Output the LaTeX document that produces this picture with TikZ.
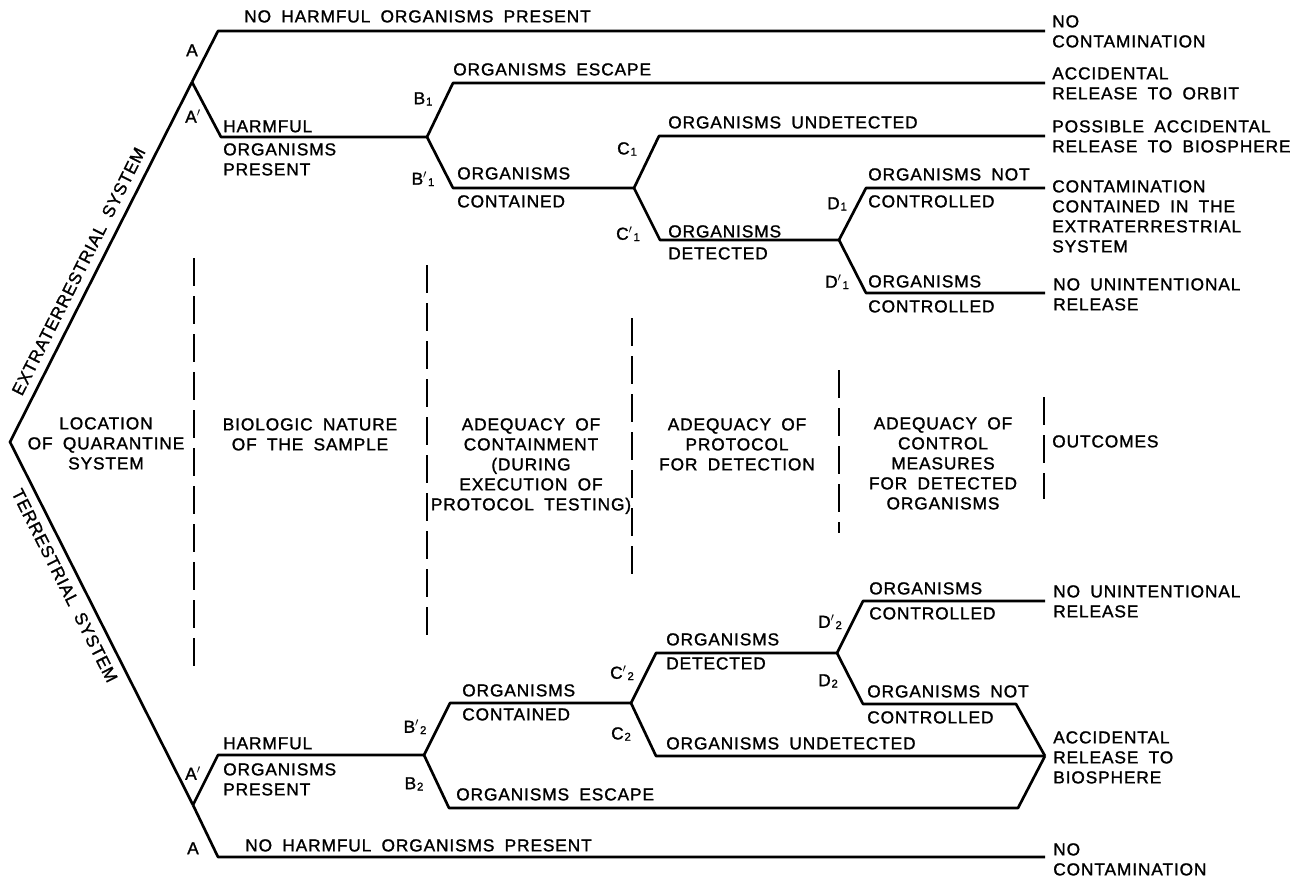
\documentclass[tikz,border=0pt]{standalone}
\usepackage{fontspec}
\setmainfont{Liberation Sans}[LetterSpace=5,WordSpace=1.8,FakeBold=1.3]
\newcommand\dsub[1]{\kern0.6pt{\fontsize{8.5}{8.5}\selectfont\raisebox{-1pt}{#1}}}
\newcommand\prm{$'$}
\begin{document}
\begin{tikzpicture}[x=0.75pt,y=-0.75pt,
  tree/.style={line width=2pt,line join=round},
  divider/.style={line width=1.1pt,dash pattern=on 21pt off 7.5pt},
  lbl/.style={inner sep=0pt,font=\fontsize{13}{15}\selectfont,anchor=north west},
  ml/.style={lbl,align=left},
  ctr/.style={lbl,anchor=north,align=center},
  slant/.style={lbl,sloped,inner xsep=0pt,inner ysep=7pt}]
\useasboundingbox (0,0) rectangle (1296,879);
% ---------- junction coordinates ----------
\coordinate (root) at (10,442);
\coordinate (Ja) at (192,82);
\coordinate (a1) at (218,31);   \coordinate (a1e) at (1045,31);
\coordinate (ap1) at (221,137); \coordinate (Jb1) at (427,137);
\coordinate (b1) at (453,83);   \coordinate (b1e) at (1045,83);
\coordinate (bp1) at (453,188); \coordinate (Jc1) at (634,188);
\coordinate (c1) at (659,136);  \coordinate (c1e) at (1045,136);
\coordinate (cp1) at (660,240); \coordinate (Jd1) at (839,240);
\coordinate (d1) at (866,188);  \coordinate (d1e) at (1045,188);
\coordinate (dp1) at (866,293); \coordinate (dp1e) at (1045,293);
\coordinate (Jb) at (193,805);
\coordinate (a2) at (218,857);  \coordinate (a2e) at (1045,857);
\coordinate (ap2) at (218,755); \coordinate (Jb2) at (424,755);
\coordinate (bp2) at (450,703); \coordinate (Jc2) at (631,703);
\coordinate (b2) at (449,808);  \coordinate (b2k) at (1018,808);
\coordinate (cp2) at (656,653); \coordinate (Jd2) at (837,653);
\coordinate (c2) at (656,756);  \coordinate (P) at (1045,756);
\coordinate (dp2) at (863,601); \coordinate (dp2e) at (1045,601);
\coordinate (d2) at (863,704);  \coordinate (d2k) at (1016,704);
% ---------- tree ----------
\draw[tree,line join=miter] (Ja) -- (root) -- (Jb);
\draw[tree] (Ja) -- (a1) -- (a1e);
\draw[tree] (Ja) -- (ap1) -- (Jb1);
\draw[tree] (Jb1) -- (b1) -- (b1e);
\draw[tree] (Jb1) -- (bp1) -- (Jc1);
\draw[tree] (Jc1) -- (c1) -- (c1e);
\draw[tree] (Jc1) -- (cp1) -- (Jd1);
\draw[tree] (Jd1) -- (d1) -- (d1e);
\draw[tree] (Jd1) -- (dp1) -- (dp1e);
\draw[tree] (Jb) -- (a2) -- (a2e);
\draw[tree] (Jb) -- (ap2) -- (Jb2);
\draw[tree] (Jb2) -- (bp2) -- (Jc2);
\draw[tree] (Jb2) -- (b2) -- (b2k) -- (P);
\draw[tree] (Jc2) -- (cp2) -- (Jd2);
\draw[tree] (Jc2) -- (c2) -- (P);
\draw[tree] (Jd2) -- (dp2) -- (dp2e);
\draw[tree] (Jd2) -- (d2) -- (d2k) -- (P);
% ---------- slanted labels ----------
\path (root) -- (Ja) node[slant,pos=0.113,anchor=south west] (tExt) {EXTRATERRESTRIAL SYSTEM};
\path (root) -- (Jb) node[slant,pos=0.112,anchor=north west] (tTer) {TERRESTRIAL SYSTEM};
% ---------- dividers ----------
\draw[divider] (194,258) -- (194,669);
\draw[divider] (427,265) -- (427,637);
\draw[divider] (632,318) -- (632,577);
\draw[divider] (839,370) -- (839,533);
\draw[divider] (1044,397) -- (1044,499);
% ---------- column headers ----------
\node[ctr] (hLoc) at (106,417) {LOCATION\\OF QUARANTINE\\SYSTEM};
\node[ctr] (hBio) at (310,418) {BIOLOGIC NATURE\\OF THE SAMPLE};
\node[ctr] (hCon) at (531,418) {ADEQUACY OF\\CONTAINMENT\\(DURING\\EXECUTION OF\\PROTOCOL TESTING)};
\node[ctr] (hDet) at (737,418) {ADEQUACY OF\\PROTOCOL\\FOR DETECTION};
\node[ctr] (hCtl) at (943,417) {ADEQUACY OF\\CONTROL\\MEASURES\\FOR DETECTED\\ORGANISMS};
\node[lbl] (hOut) at (1052,435) {OUTCOMES};
% ---------- upper branch labels ----------
\node[lbl] (tNo1) at (244,10) {NO HARMFUL ORGANISMS PRESENT};
\node[ctr] (tA1) at (192,44) {A};
\node[ctr] (tAp1) at (193,110) {A\prm};
\node[lbl] (tH1) at (223,120) {HARMFUL};
\node[ml] (tOP1) at (223,143) {ORGANISMS\\PRESENT};
\node[ctr] (tB1) at (423,92) {B\dsub{1}};
\node[ctr] (tBp1) at (423,172) {B\prm\dsub{1}};
\node[lbl] (tEsc1) at (453,63) {ORGANISMS ESCAPE};
\node[lbl] (tCo1a) at (457,167) {ORGANISMS};
\node[lbl] (tCo1b) at (457,195) {CONTAINED};
\node[ctr] (tC1) at (627,142) {C\dsub{1}};
\node[ctr] (tCp1) at (628,227) {C\prm\dsub{1}};
\node[lbl] (tUnd1) at (668,116) {ORGANISMS UNDETECTED};
\node[lbl] (tDe1a) at (668,225) {ORGANISMS};
\node[lbl] (tDe1b) at (668,247) {DETECTED};
\node[ctr] (tD1) at (837,197) {D\dsub{1}};
\node[ctr] (tDp1) at (837,275) {D\prm\dsub{1}};
\node[lbl] (tNc1a) at (868,168) {ORGANISMS NOT};
\node[lbl] (tNc1b) at (868,195) {CONTROLLED};
\node[lbl] (tCt1a) at (868,275) {ORGANISMS};
\node[lbl] (tCt1b) at (868,300) {CONTROLLED};
% ---------- upper outcomes ----------
\node[ml] (o1) at (1052,15) {NO\\CONTAMINATION};
\node[ml] (o2) at (1052,67) {ACCIDENTAL\\RELEASE TO ORBIT};
\node[ml] (o3) at (1052,120) {POSSIBLE ACCIDENTAL\\RELEASE TO BIOSPHERE};
\node[ml] (o4) at (1052,180) {CONTAMINATION\\CONTAINED IN THE\\EXTRATERRESTRIAL\\SYSTEM};
\node[ml] (o5) at (1053,278) {NO UNINTENTIONAL\\RELEASE};
% ---------- lower branch labels ----------
\node[lbl] (tH2) at (223,737) {HARMFUL};
\node[ml] (tOP2) at (223,763) {ORGANISMS\\PRESENT};
\node[ctr] (tAp2) at (193,767) {A\prm};
\node[ctr] (tA2) at (193,842) {A};
\node[lbl] (tNo2) at (245,839) {NO HARMFUL ORGANISMS PRESENT};
\node[ctr] (tBp2) at (415,720) {B\prm\dsub{2}};
\node[ctr] (tB2) at (414,777) {B\dsub{2}};
\node[lbl] (tCo2a) at (462,684) {ORGANISMS};
\node[lbl] (tCo2b) at (462,708) {CONTAINED};
\node[lbl] (tEsc2) at (456,788) {ORGANISMS ESCAPE};
\node[ctr] (tCp2) at (622,666) {C\prm\dsub{2}};
\node[ctr] (tC2) at (621,727) {C\dsub{2}};
\node[lbl] (tDe2a) at (666,633) {ORGANISMS};
\node[lbl] (tDe2b) at (666,657) {DETECTED};
\node[lbl] (tUnd2) at (666,737) {ORGANISMS UNDETECTED};
\node[ctr] (tDp2) at (830,615) {D\prm\dsub{2}};
\node[ctr] (tD2) at (828,674) {D\dsub{2}};
\node[lbl] (tCt2a) at (869,582) {ORGANISMS};
\node[lbl] (tCt2b) at (869,607) {CONTROLLED};
\node[lbl] (tNc2a) at (867,685) {ORGANISMS NOT};
\node[lbl] (tNc2b) at (867,711) {CONTROLLED};
% ---------- lower outcomes ----------
\node[ml] (o6) at (1053,585) {NO UNINTENTIONAL\\RELEASE};
\node[ml] (o7) at (1053,731) {ACCIDENTAL\\RELEASE TO\\BIOSPHERE};
\node[ml] (o8) at (1053,843) {NO\\CONTAMINATION};
\end{tikzpicture}
\end{document}
